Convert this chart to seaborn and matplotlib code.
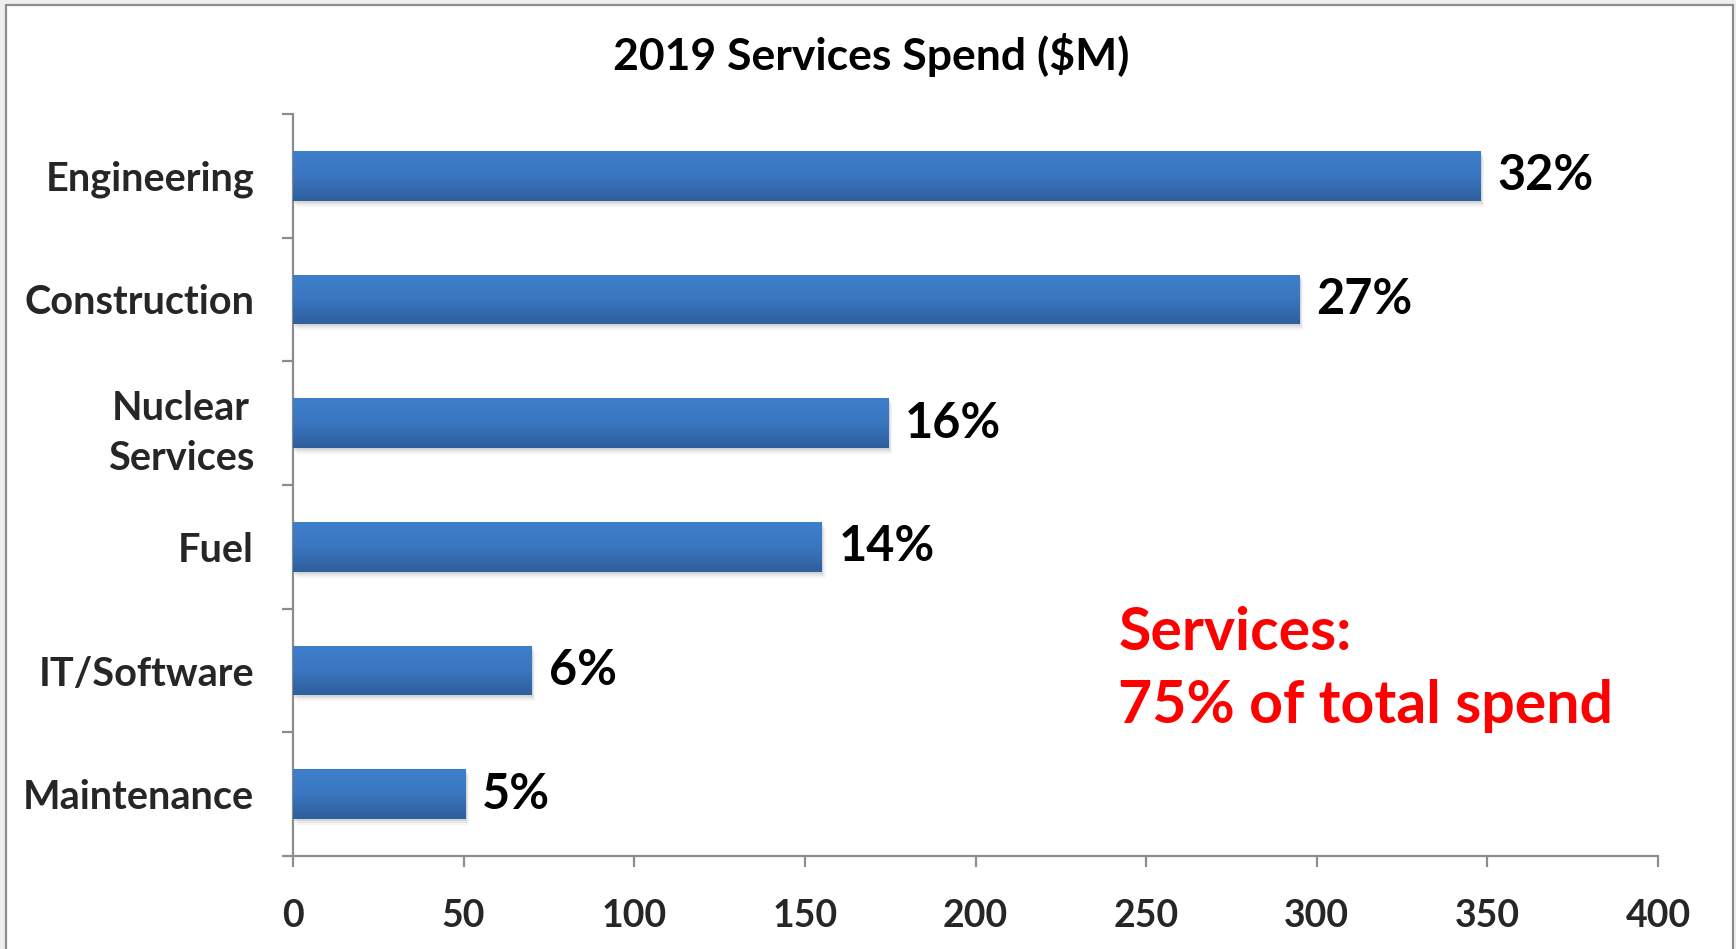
import numpy as np
import pandas as pd
import matplotlib
matplotlib.use("Agg")
import matplotlib.pyplot as plt
import matplotlib.transforms as mtransforms
from matplotlib.patches import Rectangle
from matplotlib.colors import LinearSegmentedColormap
import seaborn as sns

categories = ["Engineering", "Construction", "Nuclear\nServices", "Fuel", "IT/Software", "Maintenance"]
spend = [348, 295, 174.5, 155, 70, 50.5]
share_labels = ["32%", "27%", "16%", "14%", "6%", "5%"]
x_ticks = [0, 50, 100, 150, 200, 250, 300, 350, 400]
title = "2019 Services Spend ($M)"
note_lines = ["Services:", "75% of total spend"]

df = pd.DataFrame({"category": categories, "spend": spend})

sns.set_theme(style="white")
plt.rcParams["font.family"] = ["Lato", "DejaVu Sans"]

W, H = 1736, 949
fig = plt.figure(figsize=(W / 100, H / 100), dpi=100, facecolor="#efefef")

# outer chart frame
fig.patches.append(Rectangle((6 / W, -0.05), (1733 - 6) / W, 1.05 - 5 / H,
                             transform=fig.transFigure, facecolor="white",
                             edgecolor="#8c8c8c", linewidth=1.6, zorder=-5))

ax = fig.add_axes([293 / W, 1 - 856 / H, (1658 - 293) / W, (856 - 114) / H])
ax.set_facecolor("none")

sns.barplot(data=df, x="spend", y="category", orient="h", color="#3a78c2",
            width=0.4, ax=ax, saturation=1, linewidth=0)

ax.set_xlim(0, 400)
ax.set_ylim(5.5, -0.5)

# gradient + shadow for bars
cmap = LinearSegmentedColormap.from_list("barg", ["#3e7fcc", "#3a76c0", "#2e5e9c"])
grad = np.linspace(0, 1, 256).reshape(-1, 1)
patches = list(ax.patches)
for p in patches:
    p.set_edgecolor("none")
    x0, y0 = p.get_x(), p.get_y()
    w, h = p.get_width(), p.get_height()
    for k, a in [(2, 0.10), (4, 0.08), (6, 0.05)]:
        off = mtransforms.offset_copy(ax.transData, fig=fig, x=k * 0.6, y=-k, units="dots")
        ax.add_patch(Rectangle((x0, y0), w, h, transform=off, facecolor="#404040",
                               edgecolor="none", alpha=a, zorder=1))
    im = ax.imshow(grad, extent=[x0, x0 + w, y0 + h, y0], aspect="auto",
                   cmap=cmap, zorder=3, interpolation="bilinear")
    im.set_clip_path(p)
    p.set_zorder(2)
ax.set_xlim(0, 400)
ax.set_ylim(5.5, -0.5)

ax.bar_label(ax.containers[0], labels=share_labels, padding=12,
             fontsize=35, fontweight="bold", color="black")

# spines and ticks
for s in ["top", "right"]:
    ax.spines[s].set_visible(False)
for s in ["left", "bottom"]:
    ax.spines[s].set_color("#8c8c8c")
    ax.spines[s].set_linewidth(1.6)

ax.set_xticks(x_ticks)
ax.set_xticklabels([str(v) for v in x_ticks], fontsize=27, fontweight="bold")
ax.set_yticks(range(len(categories)))
ax.set_yticklabels(categories, fontsize=28.5, fontweight="bold",
                   multialignment="center", linespacing=1.45)
ax.set_yticks(np.arange(-0.5, 6.0, 1.0), minor=True)
ax.tick_params(axis="y", which="major", length=0, pad=28)
ax.tick_params(axis="y", which="minor", length=8, width=1.6, color="#8c8c8c", direction="out", left=True)
ax.tick_params(axis="x", which="major", length=8, width=1.6, color="#8c8c8c", direction="out",
               bottom=True, pad=23)
ax.set_xlabel("")
ax.set_ylabel("")

fig.text(871 / W, 1 - 55 / H, title, ha="center", va="center",
         fontsize=32, fontweight="bold", color="black")

ax.text(0.6046, 1 - (633 - 114) / (856 - 114), note_lines[0],
        transform=ax.transAxes, ha="left", va="center", fontsize=42.5,
        fontweight="bold", color="#ff0000")
ax.text(0.6046, 1 - (706 - 114) / (856 - 114), note_lines[1],
        transform=ax.transAxes, ha="left", va="center", fontsize=42.5,
        fontweight="bold", color="#ff0000")

fig.savefig("out.png", dpi=100, facecolor=fig.get_facecolor())
